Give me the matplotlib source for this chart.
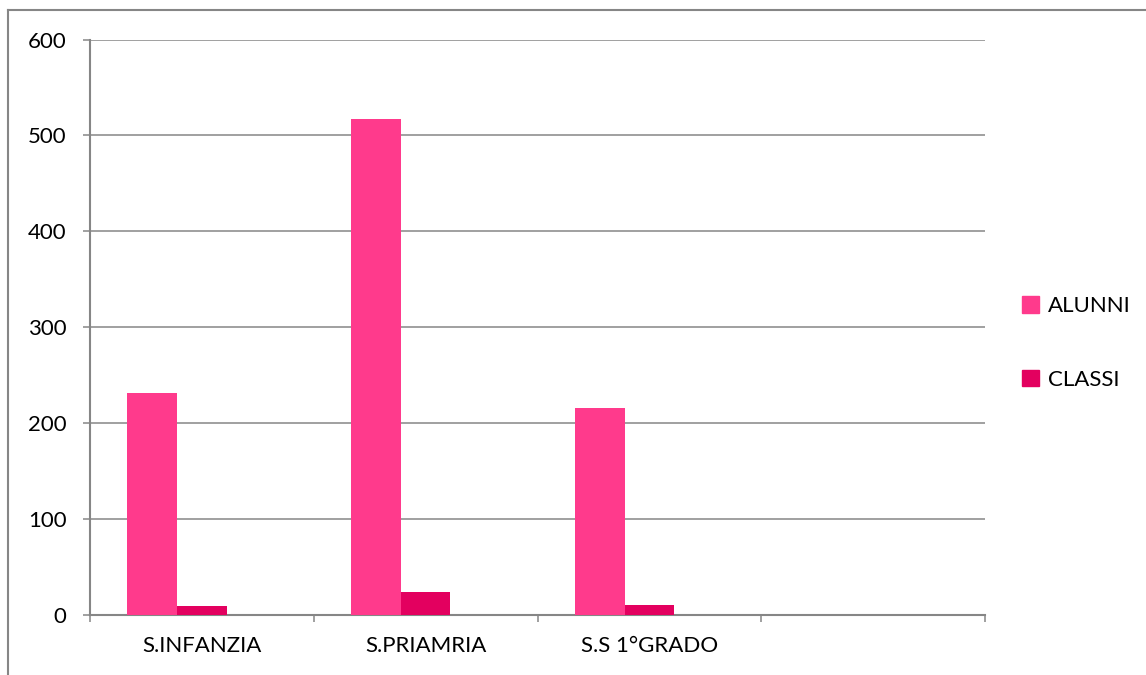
import numpy as np
import matplotlib
matplotlib.use("Agg")
import matplotlib.pyplot as plt
from matplotlib.lines import Line2D
from matplotlib.patches import Patch

plt.rcParams['font.family'] = ['Lato', 'DejaVu Sans']

# Data
categories = ["S.INFANZIA", "S.PRIAMRIA", "S.S 1°GRADO"]
alunni = [231, 517, 216]
classi = [9, 24, 10]
n_slots = 4  # the chart keeps one empty category slot on the right

grey = "#868686"
pink = "#FF3A8C"
dark_pink = "#E3005F"

fig = plt.figure(figsize=(11.46, 6.75), dpi=100)
ax = fig.add_axes([90 / 1146, 1 - 614.7 / 675, 895 / 1146, 575.2 / 675])

x = np.arange(len(categories))
w = 1 / 4.5  # three series slots + 150% gap
ax.bar(x - w, alunni, width=w, align='center', color=pink, label="ALUNNI", zorder=3)
ax.bar(x, classi, width=w, align='center', color=dark_pink, label="CLASSI", zorder=3)

ax.set_xlim(-0.5, n_slots - 0.5)
ax.set_ylim(0, 600)
ax.set_yticks(range(0, 601, 100))
ax.grid(axis='y', color=grey, linewidth=1.1, zorder=0)

ax.set_xticks(x)
ax.set_xticklabels(categories)
ax.set_xticks(np.arange(n_slots + 1) - 0.5, minor=True)
ax.tick_params(axis='x', which='major', length=0, pad=15, labelsize=16)
ax.tick_params(axis='x', which='minor', length=5, width=1.1, color=grey, direction='out')
ax.tick_params(axis='y', length=5, width=1.1, color=grey, pad=12, labelsize=16)

for s in ['top', 'right']:
    ax.spines[s].set_visible(False)
for s in ['left', 'bottom']:
    ax.spines[s].set_color(grey)
    ax.spines[s].set_linewidth(1.5)

# legend
handles = [Patch(color=pink), Patch(color=dark_pink)]
fig.legend(handles, ["ALUNNI", "CLASSI"], loc='center left',
           bbox_to_anchor=(1002 / 1146, 1 - 343 / 675), frameon=False,
           fontsize=16, handlelength=0.75, handleheight=0.75, handletextpad=0.4,
           labelspacing=2.4)

# outer chart border (only left and top edges visible)
bx = 8 / 1146
by = 1 - 10 / 675
fig.add_artist(Line2D([bx, bx], [0, by], color=grey, linewidth=1.5, transform=fig.transFigure))
fig.add_artist(Line2D([bx, 1], [by, by], color=grey, linewidth=1.5, transform=fig.transFigure))

fig.savefig("out.png", dpi=100)
